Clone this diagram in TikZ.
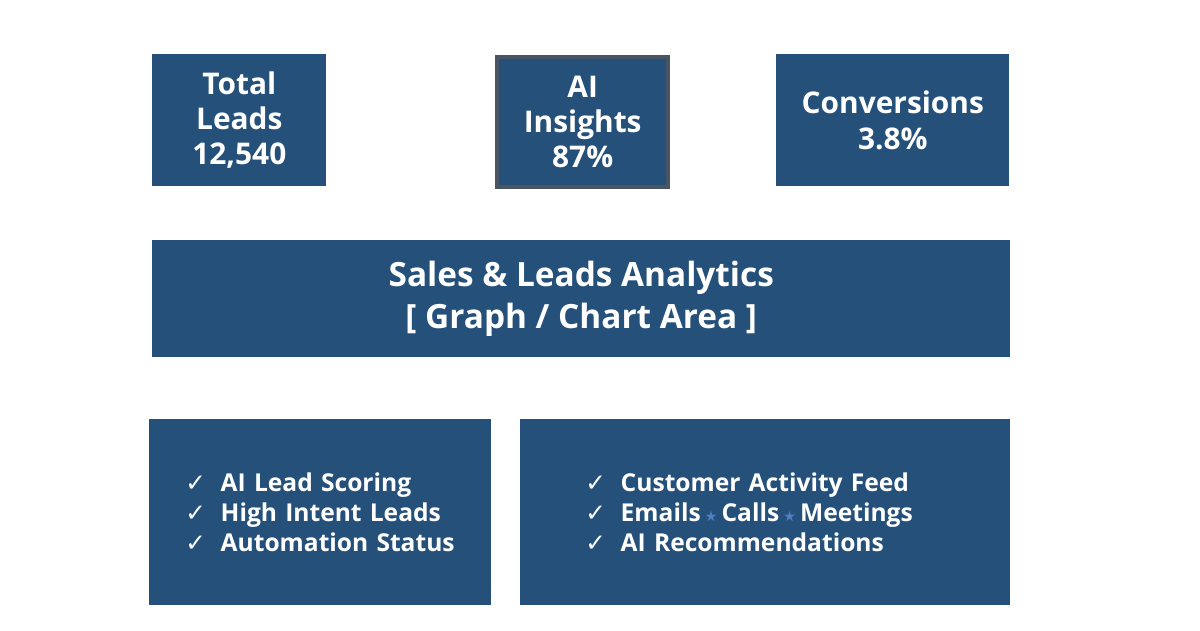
\documentclass[tikz,border=0pt]{standalone}
\usepackage{fontspec}
\setmainfont{Open Sans}
\newfontfamily\symfont{DejaVu Sans}
\definecolor{tileblue}{HTML}{24507A}
\definecolor{tileedge}{HTML}{4A5563}
\definecolor{starblue}{HTML}{4F7FBF}
\newcommand{\chk}{{\symfont\mdseries ✓}\hspace{0.6em}}
\newcommand{\sep}{\,{\symfont\footnotesize\color{starblue}★}\,}
\begin{document}
\begin{tikzpicture}[x=0.02cm,y=-0.02cm,
    tile/.style={fill=tileblue, text=white, font=\bfseries\fontsize{17}{20}\selectfont,
      align=center, anchor=north west, inner sep=0pt},
    listtile/.style={tile, align=left, font=\bfseries\fontsize{14}{17}\selectfont}]
    \useasboundingbox[fill=white] (0,0) rectangle (1200,630);
    % top row
    \node[tile, minimum width=3.48cm, minimum height=2.64cm] (leads) at (152,54) {Total\\Leads\\12,540};
    \node[tile, draw=tileedge, line width=2.5pt, minimum width=3.42cm, minimum height=2.6cm] (insights) at (495,55) {AI\\Insights\\87\%};
    \node[tile, minimum width=4.66cm, minimum height=2.64cm] (conv) at (776,54) {Conversions\\3.8\%};
    % chart area
    \node[tile, font=\bfseries\fontsize{19}{24}\selectfont, minimum width=17.16cm, minimum height=2.34cm] (chart) at (152,240)
      {Sales \& Leads Analytics\\{[} Graph / Chart Area ]};
    % bottom row
    \node[listtile, text width=5.4cm, inner xsep=0.72cm, minimum height=3.72cm] (scoring) at (149,419)
      {\chk AI Lead Scoring\\\chk High Intent Leads\\\chk Automation Status};
    \node[listtile, text width=7.2cm, inner xsep=1.3cm, minimum height=3.72cm] (activity) at (520,419)
      {\chk Customer Activity Feed\\\chk Emails\sep Calls\sep Meetings\\\chk AI Recommendations};
\end{tikzpicture}
\end{document}
